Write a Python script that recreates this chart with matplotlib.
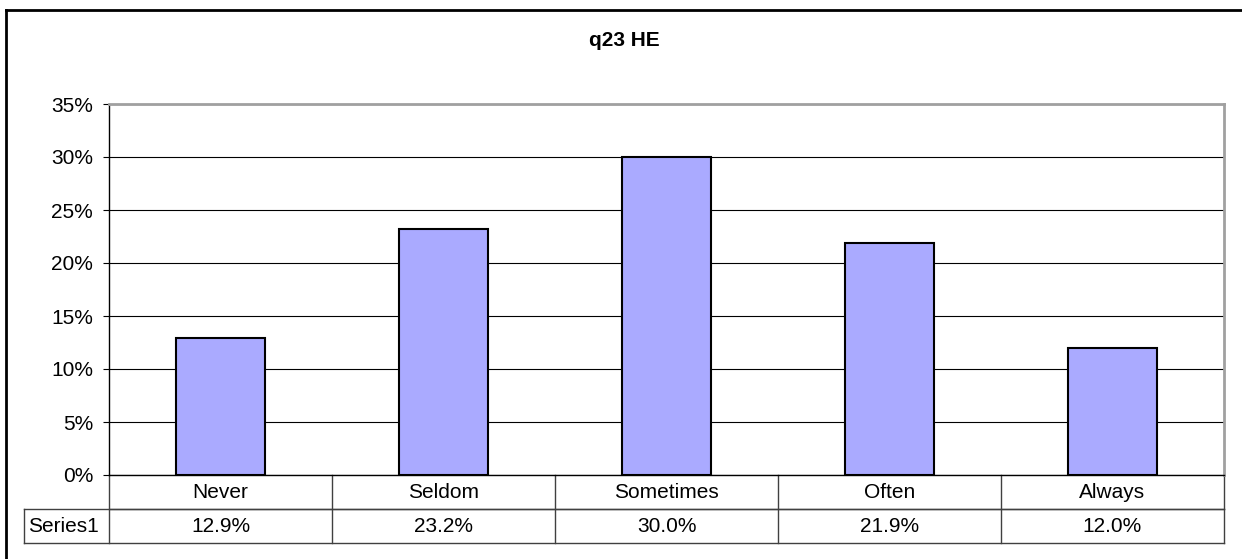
import matplotlib.pyplot as plt
from matplotlib.lines import Line2D
from matplotlib.transforms import blended_transform_factory

plt.rcParams['font.family'] = ['Liberation Sans', 'DejaVu Sans']

# donnees
categories = ['Never', 'Seldom', 'Sometimes', 'Often', 'Always']
valeurs = [12.9, 23.2, 30.0, 21.9, 12.0]
etiquettes = ['12.9%', '23.2%', '30.0%', '21.9%', '12.0%']
serie = 'Series1'
titre = 'q23 HE'

W, H = 1242, 559
fs = 15
fig = plt.figure(figsize=(W / 100, H / 100), dpi=100)

# cadre exterieur (seuls les bords haut et gauche sont visibles)
fig.add_artist(Line2D([5.5 / W, 5.5 / W], [0, 1 - 10 / H], color='black', lw=2))
fig.add_artist(Line2D([5.5 / W, 1], [1 - 10 / H, 1 - 10 / H], color='black', lw=2))

x0, x1, yb, yt = 109, 1224, 475, 104
ax = fig.add_axes([x0 / W, 1 - yb / H, (x1 - x0) / W, (yb - yt) / H])

x = list(range(len(categories)))
ax.bar(x, valeurs, width=0.4, color='#aaaaff', edgecolor='black', linewidth=1.5, zorder=3)
ax.set_xlim(-0.5, len(categories) - 0.5)
ax.set_ylim(0, 35)
ax.set_yticks(range(0, 36, 5))
ax.set_yticklabels([f'{v}%' for v in range(0, 36, 5)], fontsize=fs)
ax.yaxis.grid(True, color='black', lw=0.8, zorder=0)
ax.set_xticks([])
ax.tick_params(axis='y', direction='out', length=4.5, width=0.8, color='black', pad=7)
for s in ['top', 'right']:
    ax.spines[s].set_color('#a0a0a0')
    ax.spines[s].set_linewidth(2)
ax.spines['left'].set_linewidth(1)
ax.spines['bottom'].set_linewidth(1)

fig.text(624 / W, 1 - 40 / H, titre, ha='center', va='center', fontsize=fs, fontweight='bold')

# table de donnees sous le graphique
tr = blended_transform_factory(ax.transData, ax.transAxes)
hauteur = (yb - yt)
r1 = -34 / hauteur
r2 = -68 / hauteur
xg = -0.5 - (x0 - 24) / ((x1 - x0) / 5)
lc = '#404040'
kw = dict(transform=tr, clip_on=False, color=lc, lw=1)
ax.add_line(Line2D([-0.5, 4.5], [r1, r1], **kw))
ax.add_line(Line2D([xg, 4.5], [r1, r1], **kw))
ax.add_line(Line2D([xg, 4.5], [r2, r2], **kw))
ax.add_line(Line2D([xg, xg], [r1, r2], **kw))
for b in [i - 0.5 for i in range(len(categories) + 1)]:
    ax.add_line(Line2D([b, b], [0, r2], **kw))
for i, (c, e) in enumerate(zip(categories, etiquettes)):
    ax.text(i, r1 / 2, c, transform=tr, ha='center', va='center', fontsize=fs)
    ax.text(i, (r1 + r2) / 2, e, transform=tr, ha='center', va='center', fontsize=fs)
ax.text(xg + 0.02, (r1 + r2) / 2, serie, transform=tr, ha='left', va='center', fontsize=fs)

plt.savefig('out.png', dpi=100)
